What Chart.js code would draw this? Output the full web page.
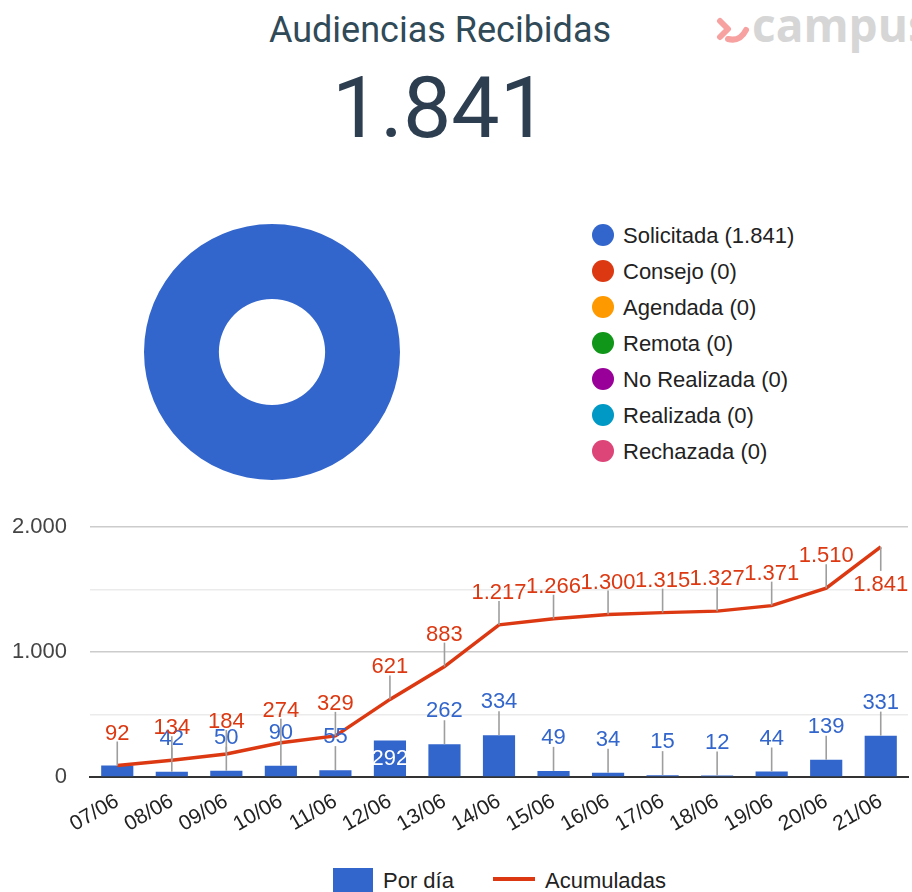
<!DOCTYPE html>
<html>
<head>
<meta charset="utf-8">
<script src="https://cdn.jsdelivr.net/npm/chart.js@4"></script>
<style>
  html,body{margin:0;padding:0;background:#fff;width:912px;height:892px;overflow:hidden;position:relative;font-family:"Liberation Sans",Arial,sans-serif;}
  #title{position:absolute;left:0;width:880px;top:8px;text-align:center;font-family:Roboto,"Liberation Sans",sans-serif;font-size:36px;color:#304a58;line-height:44px;}
  #big{position:absolute;left:0;width:880px;top:58px;text-align:center;font-family:Roboto,"Liberation Sans",sans-serif;font-size:86px;color:#2c3e50;line-height:100px;}
  #logo{position:absolute;left:716px;top:-6px;white-space:nowrap;font-family:"Open Sans",sans-serif;font-weight:700;font-size:46px;color:#d6d6d6;line-height:60px;}
  #logo svg{vertical-align:middle;margin-right:2px;}
  #donutWrap{position:absolute;left:144px;top:224px;width:256px;height:256px;}
  #legend{position:absolute;left:592px;top:218px;font-size:22px;color:#222;}
  .lrow{height:36px;line-height:36px;white-space:nowrap;}
  .dot{display:inline-block;width:22px;height:22px;border-radius:50%;vertical-align:middle;margin-right:9px;position:relative;top:-2px;}
  #comboWrap{position:absolute;left:0;top:500px;width:912px;height:340px;}
  .bl{position:absolute;font-size:22px;color:#222;white-space:nowrap;line-height:24px;}
</style>
</head>
<body>
<div id="title">Audiencias Recibidas</div>
<div id="big">1.841</div>
<div id="logo"><svg width="34" height="30" viewBox="0 0 34 30"><path d="M4 6 L12 14 L4 22" fill="none" stroke="#f7a1a1" stroke-width="6" stroke-linecap="round" stroke-linejoin="round"/><path d="M12 24 Q24 27 30 15" fill="none" stroke="#f7a1a1" stroke-width="6" stroke-linecap="round"/></svg>campus</div>
<div id="donutWrap"><canvas id="donut" width="256" height="256"></canvas></div>
<div id="legend"></div>
<div id="comboWrap"><canvas id="combo" width="912" height="340"></canvas></div>
<div id="blegend"></div>
<script>
// ---------- data ----------
const statusLabels = ['Solicitada', 'Consejo', 'Agendada', 'Remota', 'No Realizada', 'Realizada', 'Rechazada'];
const statusValues = [1841, 0, 0, 0, 0, 0, 0];
const statusColors = ['#3366cc', '#dc3912', '#ff9900', '#109618', '#990099', '#0099c6', '#dd4477'];

const days = ['07/06','08/06','09/06','10/06','11/06','12/06','13/06','14/06','15/06','16/06','17/06','18/06','19/06','20/06','21/06'];
const perDay = [92, 42, 50, 90, 55, 292, 262, 334, 49, 34, 15, 12, 44, 139, 331];
const cumulative = [92, 134, 184, 274, 329, 621, 883, 1217, 1266, 1300, 1315, 1327, 1371, 1510, 1841];
const yTicks = [0, 1000, 2000];
const seriesNames = ['Por día', 'Acumuladas'];
const barColor = '#3366cc';
const lineColor = '#dc3912';

function fmt(n){ return String(n).replace(/\B(?=(\d{3})+(?!\d))/g, '.'); }

// ---------- donut ----------
new Chart(document.getElementById('donut'), {
  type: 'doughnut',
  data: { labels: statusLabels, datasets: [{ data: statusValues, backgroundColor: statusColors, borderWidth: 0 }] },
  options: {
    responsive: false, animation: false, cutout: '41.5%',
    plugins: { legend: { display: false }, tooltip: { enabled: false } },
    layout: { padding: 0 }
  }
});
const leg = document.getElementById('legend');
statusLabels.forEach((l, i) => {
  const r = document.createElement('div'); r.className = 'lrow';
  r.innerHTML = '<span class="dot" style="background:' + statusColors[i] + '"></span>' + l + ' (' + fmt(statusValues[i]) + ')';
  leg.appendChild(r);
});

// ---------- bottom legend ----------
(function(){
  const b = document.getElementById('blegend');
  b.innerHTML =
    '<div class="bl" style="left:333px;top:868px;width:40px;height:24px;background:' + barColor + '"></div>' +
    '<div class="bl" style="left:383px;top:869px">' + seriesNames[0] + '</div>' +
    '<div class="bl" style="left:493px;top:877px;width:42px;height:4px;background:' + lineColor + '"></div>' +
    '<div class="bl" style="left:545px;top:869px">' + seriesNames[1] + '</div>';
})();

// ---------- annotations plugin ----------
const annot = {
  id: 'annot',
  afterDatasetsDraw(chart) {
    const ctx = chart.ctx, x = chart.scales.x, y = chart.scales.y, area = chart.chartArea;
    const stem = 24;
    ctx.save();
    ctx.font = '22px "Liberation Sans", Arial, sans-serif';
    ctx.textAlign = 'center';
    // bars
    perDay.forEach((v, i) => {
      if (v === cumulative[i]) return;
      const px = x.getPixelForValue(i), py = y.getPixelForValue(v), base = y.getPixelForValue(0);
      const ly = y.getPixelForValue(cumulative[i]);
      const labTop = py - stem - 22, labBot = py - stem;
      if (ly > labTop && ly < labBot + 4 && (base - py) > 24) {
        ctx.fillStyle = '#ffffff';
        ctx.textBaseline = 'middle';
        ctx.fillText(fmt(v), px, (py + base) / 2);
        return;
      }
      ctx.strokeStyle = '#9e9e9e'; ctx.lineWidth = 1.6;
      ctx.beginPath(); ctx.moveTo(px, py); ctx.lineTo(px, py - stem); ctx.stroke();
      ctx.fillStyle = barColor; ctx.textBaseline = 'alphabetic';
      ctx.fillText(fmt(v), px, py - stem - 3);
    });
    // line
    cumulative.forEach((v, i) => {
      const px = x.getPixelForValue(i), py = y.getPixelForValue(v);
      ctx.strokeStyle = '#9e9e9e'; ctx.lineWidth = 1.6;
      if (py - stem - 18 < area.top) {
        ctx.beginPath(); ctx.moveTo(px, py); ctx.lineTo(px, py + stem); ctx.stroke();
        ctx.fillStyle = lineColor; ctx.textBaseline = 'top';
        ctx.fillText(fmt(v), px, py + stem + 3);
      } else {
        ctx.beginPath(); ctx.moveTo(px, py); ctx.lineTo(px, py - stem); ctx.stroke();
        ctx.fillStyle = lineColor; ctx.textBaseline = 'alphabetic';
        ctx.fillText(fmt(v), px, py - stem - 2);
      }
    });
    ctx.restore();
  }
};

// ---------- combo ----------
new Chart(document.getElementById('combo'), {
  data: {
    labels: days,
    datasets: [
      { type: 'bar', label: seriesNames[0], data: perDay, backgroundColor: barColor, barPercentage: 0.59, categoryPercentage: 1, order: 2 },
      { type: 'line', label: seriesNames[1], data: cumulative, borderColor: lineColor, borderWidth: 3.5, pointRadius: 0, tension: 0, fill: false, order: 1 }
    ]
  },
  options: {
    responsive: false, animation: false,
    layout: { padding: { top: 27, right: 4, left: 0, bottom: 0 } },
    plugins: { legend: { display: false }, tooltip: { enabled: false } },
    scales: {
      x: {
        offset: true,
        grid: { display: false },
        border: { color: '#333', width: 2 },
        ticks: { color: '#222', font: { size: 21, family: '"Liberation Sans", Arial, sans-serif' }, minRotation: 30, maxRotation: 30, autoSkip: false, padding: 4 },
        afterFit(s) { s.height = 63; s.paddingLeft = 0; s.paddingRight = 0; }
      },
      y: {
        min: 0, max: 2000,
        border: { display: false },
        grid: {
          drawTicks: false,
          color(c) { const v = c.tick.value; if (v === 0) return 'rgba(0,0,0,0)'; return yTicks.includes(v) ? '#cccccc' : '#ebebeb'; },
          lineWidth: 1.5
        },
        ticks: {
          stepSize: 500, padding: 23, color: '#444',
          font: { size: 22, family: '"Liberation Sans", Arial, sans-serif' },
          callback(v) { return yTicks.includes(v) ? fmt(v) : ''; }
        },
        afterFit(s) { s.width = 90; s.paddingTop = 0; s.paddingBottom = 0; }
      }
    }
  },
  plugins: [annot]
});
</script>
</body>
</html>
